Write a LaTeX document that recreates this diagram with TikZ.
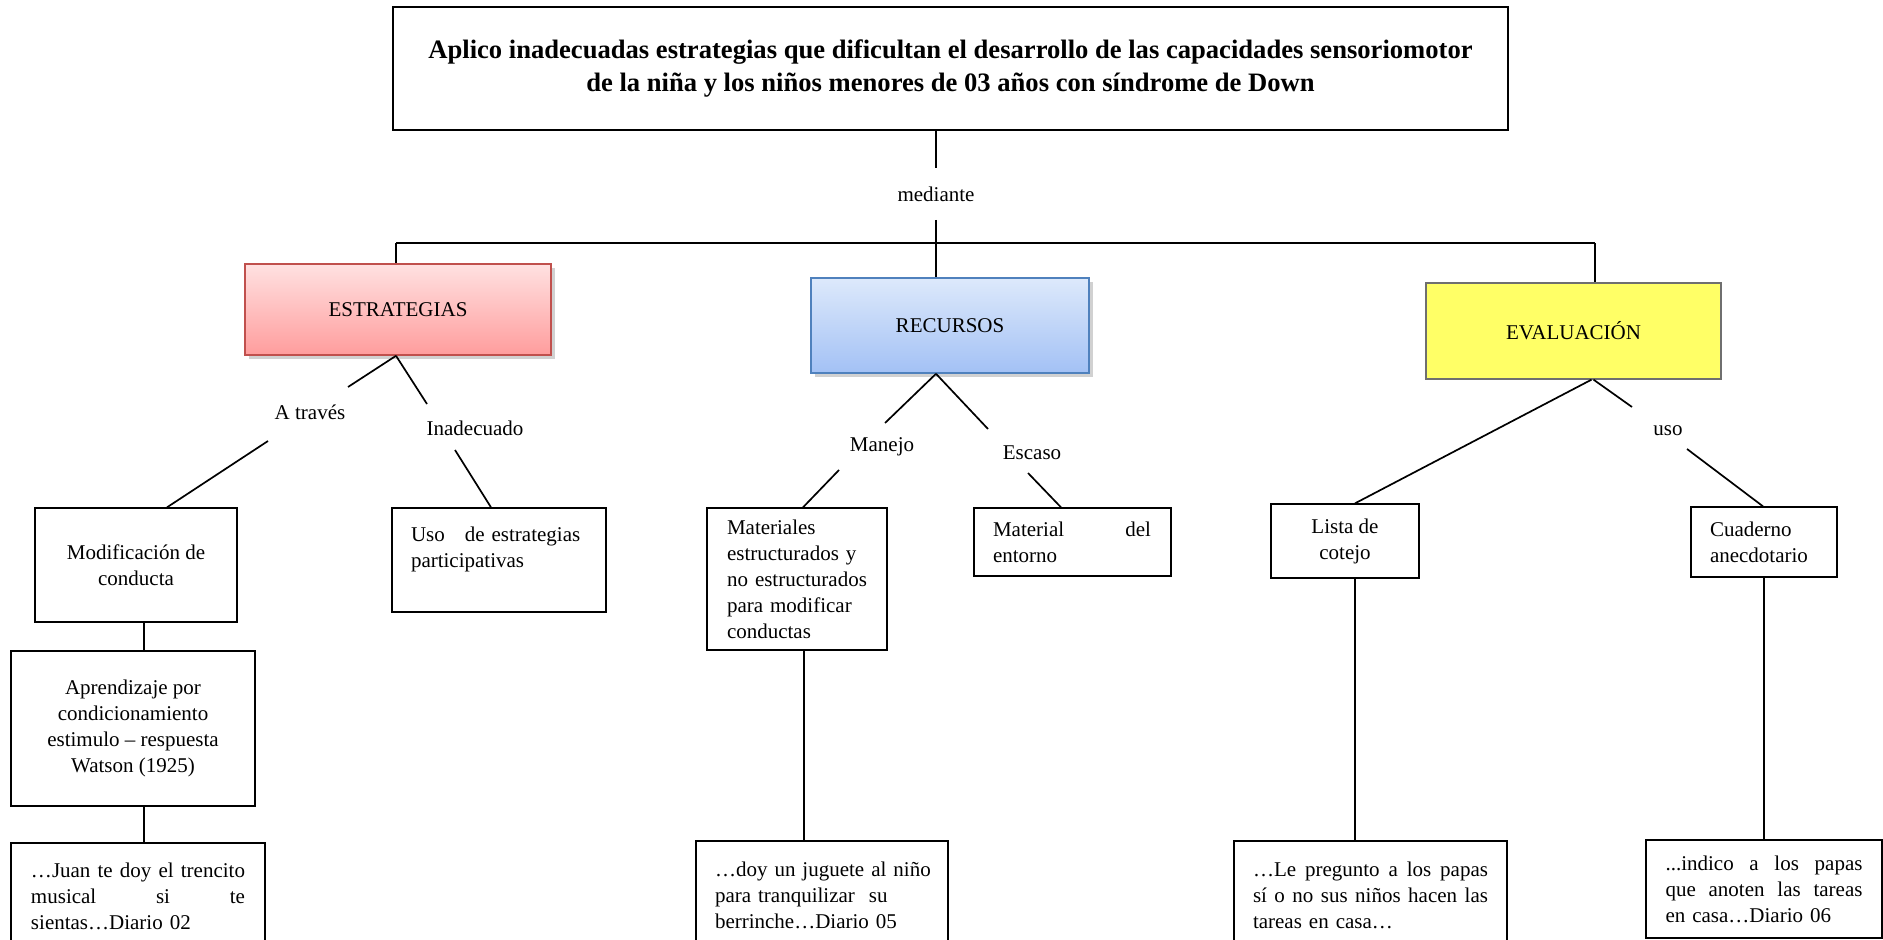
\documentclass[tikz,border=0pt]{standalone}
\usepackage{fontspec}
\setmainfont{Liberation Serif}
\usetikzlibrary{shadows,calc}
\definecolor{estrTop}{HTML}{FFE1E1}
\definecolor{estrBot}{HTML}{FF9D9D}
\definecolor{estrLine}{HTML}{C0504D}
\definecolor{recTop}{HTML}{DDE9FB}
\definecolor{recBot}{HTML}{A3C1F5}
\definecolor{recLine}{HTML}{4F81BD}
\definecolor{evalFill}{HTML}{FFFF66}
\definecolor{evalLine}{HTML}{6F6F6F}
\newcommand{\jl}[2]{\leavevmode\hbox to #1pt{#2}}
\begin{document}
\begin{tikzpicture}[x=0.5pt,y=-0.5pt,
  every node/.style={font=\fontsize{10.5}{13}\selectfont},
  box/.style={draw=black, line width=0.65pt, rectangle, inner sep=0pt, align=center},
  lbox/.style={box, align=left},
  head/.style={box, line width=0.8pt, drop shadow={shadow xshift=2pt, shadow yshift=-2pt, fill=black, opacity=0.18}},
  lbl/.style={inner sep=0pt},
  conn/.style={line width=0.85pt, black},
  bar/.style={line width=1.3pt, black}]
\useasboundingbox[fill=white] (0,0) rectangle (1883,940);
\begin{scope}
\clip (0,0) rectangle (1883,940);

% title
\node[box, line width=0.7pt, minimum width=557.5pt, minimum height=61.5pt,
      font=\fontsize{13.3}{16.3}\selectfont\bfseries] (title) at (950.5,68.5)
  {Aplico inadecuadas estrategias que dificultan el desarrollo de las capacidades sensoriomotor\\
   de la niña y los niños menores de 03 años con síndrome de Down};

% main categories
\node[head, draw=estrLine, top color=estrTop, bottom color=estrBot,
      minimum width=153pt, minimum height=45.5pt] (estr) at (398,309.5) {ESTRATEGIAS};
\node[head, draw=recLine, top color=recTop, bottom color=recBot,
      minimum width=139pt, minimum height=47.5pt] (recu) at (950,325.5) {RECURSOS};
\node[box, draw=evalLine, fill=evalFill,
      minimum width=147.5pt, minimum height=48pt] (eval) at (1573.5,331) {EVALUACIÓN};

% labels
\node[lbl, minimum height=25.5pt] (med) at (936,194) {mediante};
\node[lbl] (atr) at (310,412) {A través};
\node[lbl] (inad) at (475,428) {Inadecuado};
\node[lbl] (man) at (882,447) {Manejo};
\node[lbl] (esc) at (1032,453) {Escaso};
\node[lbl] (usoL) at (1668,431) {uso};

% second level
\node[box, minimum width=101pt, minimum height=57pt] (modif) at (136,565)
  {Modificación de\\conducta};
\node[lbox, text width=88pt, minimum width=107pt, minimum height=52pt] (uso) at (499,560)
  {Uso\hspace{6.5pt} de estrategias\\participativas\\\mbox{}};
\node[lbox, text width=70pt, minimum width=90pt, minimum height=71pt] (mater) at (797,579)
  {Materiales\\estructurados y\\no estructurados\\para modificar\\conductas};
\node[lbox, text width=79.5pt, minimum width=98.5pt, minimum height=34pt] (entorno) at (1072.5,542)
  {\jl{79}{Material\hfill del}\\entorno};
\node[box, minimum width=74pt, minimum height=37pt] (lista) at (1345,541)
  {Lista de\\cotejo};
\node[lbox, text width=54pt, minimum width=73pt, minimum height=35pt] (cuad) at (1764,542)
  {Cuaderno\\anecdotario};

% third level
\node[box, minimum width=122pt, minimum height=77.5pt] (aprend) at (133,728.5)
  {Aprendizaje por\\condicionamiento\\estimulo – respuesta\\Watson (1925)};

% bottom quotes
\node[lbox, text width=107pt, minimum width=127pt, minimum height=53pt] (juan) at (138,896)
  {\jl{107}{…Juan\hfill te\hfill doy\hfill el\hfill trencito}\\\jl{107}{musical\hfill si\hfill te}\\sientas…Diario 02};
\node[lbox, text width=107pt, minimum width=126pt, minimum height=54pt] (doy) at (822,895)
  {\mbox{…doy un juguete al niño}\\\mbox{para tranquilizar\ \ su}\\berrinche…Diario 05};
\node[lbox, text width=117.5pt, minimum width=136.5pt, minimum height=54pt] (preg) at (1370.5,895)
  {\jl{117.5}{…Le\hfill pregunto\hfill a\hfill los\hfill papas}\\\jl{117.5}{sí\hfill o\hfill no\hfill sus\hfill niños\hfill hacen\hfill las}\\tareas en casa…};
\node[lbox, text width=98.5pt, minimum width=118pt, minimum height=49pt] (indico) at (1764,889)
  {\jl{98.5}{...indico\hfill a\hfill los\hfill papas}\\\jl{98.5}{que\hfill anoten\hfill las\hfill tareas}\\en casa…Diario 06};

% connector break points
\coordinate (barL) at (396,243);
\coordinate (barR) at (1595,243);
\coordinate (atr1) at (348,387);
\coordinate (atr2) at (268,441);
\coordinate (inad1) at (427,404);
\coordinate (inad2) at (455,450);
\coordinate (man1) at (885,423);
\coordinate (man2) at (839,470);
\coordinate (esc1) at (988,429);
\coordinate (esc2) at (1028,473);
\coordinate (uso1) at (1632,407);
\coordinate (uso2) at (1687,449);

% connectors
\draw[conn] (title.south -| med) -- (med.north);
\draw[conn] (med.south) -- (med.south |- barL);
\draw[bar] (barL) -- (barR);
\draw[conn] (barL) -- (barL |- estr.north);
\draw[conn] (med |- barL) -- (med |- recu.north);
\draw[conn] (barR) -- (barR |- eval.north);

\draw[conn] ([xshift=-1pt]estr.south) -- (atr1);
\draw[conn] (atr2) -- ([xshift=15.5pt]modif.north);
\draw[conn] ([xshift=-1pt]estr.south) -- (inad1);
\draw[conn] (inad2) -- ([xshift=-4pt]uso.north);

\draw[conn] ([xshift=-7pt]recu.south) -- (man1);
\draw[conn] (man2) -- ([xshift=3pt]mater.north);
\draw[conn] ([xshift=-7pt]recu.south) -- (esc1);
\draw[conn] (esc2) -- ([xshift=-5.75pt]entorno.north);

\draw[conn] ([xshift=9pt]eval.south) -- ([xshift=5pt]lista.north);
\draw[conn] ([xshift=10pt]eval.south) -- (uso1);
\draw[conn] (uso2) -- ([xshift=-0.5pt]cuad.north);

\draw[conn] ([xshift=4pt]modif.south) -- ([xshift=4pt]modif.south |- aprend.north);
\draw[conn] ([xshift=5.5pt]aprend.south) -- ([xshift=5.5pt]aprend.south |- juan.north);
\draw[conn] ([xshift=3.5pt]mater.south) -- ([xshift=3.5pt]mater.south |- doy.north);
\draw[conn] ([xshift=5pt]lista.south) -- ([xshift=5pt]lista.south |- preg.north);
\draw[conn] (cuad.south) -- (cuad.south |- indico.north);
\end{scope}
\end{tikzpicture}
\end{document}
